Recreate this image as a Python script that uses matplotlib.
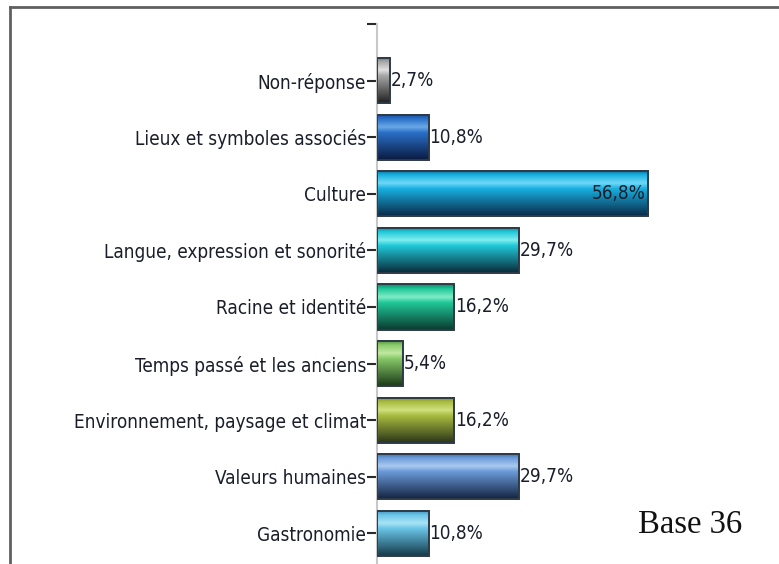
import matplotlib
matplotlib.use("Agg")
import matplotlib.pyplot as plt
import numpy as np
from matplotlib.colors import LinearSegmentedColormap
from matplotlib.lines import Line2D

categories = [
    "Non-réponse",
    "Lieux et symboles associés",
    "Culture",
    "Langue, expression et sonorité",
    "Racine et identité",
    "Temps passé et les anciens",
    "Environnement, paysage et climat",
    "Valeurs humaines",
    "Gastronomie",
]
values = [2.7, 10.8, 56.8, 29.7, 16.2, 5.4, 16.2, 29.7, 10.8]
value_labels = ["2,7%", "10,8%", "56,8%", "29,7%", "16,2%", "5,4%", "16,2%", "29,7%", "10,8%"]
base_note = "Base 36"

# (top edge, base, highlight, bottom) colours of each bar's vertical gradient
bar_shades = [
    ("#707070", "#a8a8a8", "#e0e0e0", "#202020"),
    ("#1a4aa0", "#2a70c8", "#6aa8e8", "#0a1a40"),
    ("#0a6a9a", "#18b0e0", "#70d8f8", "#0a2a48"),
    ("#0a8a9a", "#20c8d8", "#80eef0", "#0a2a38"),
    ("#0a8a6a", "#20c898", "#80ecc8", "#0a3a30"),
    ("#4a8a3a", "#88c868", "#c0eaa0", "#1a3a18"),
    ("#7a8a2a", "#a8bc40", "#d0e080", "#2a3418"),
    ("#3a68a8", "#6a9ad8", "#aacaf0", "#142440"),
    ("#3a90b8", "#6ac4e6", "#a8e4f6", "#143a4a"),
]

fig = plt.figure(figsize=(7.79, 5.64), dpi=100)
W, H = 779, 564

# axes spans from the top tick (y=24px) to one slot below the figure edge
ax_left, ax_top, ax_bottom, ax_right = 377, 24, 590, 759
ax = fig.add_axes([ax_left / W, 1 - ax_bottom / H,
                   (ax_right - ax_left) / W, (ax_bottom - ax_top) / H])

n = len(categories)
ypos = np.arange(n)
bar_h = 0.8
bars = ax.barh(ypos, values, height=bar_h, facecolor="none",
               edgecolor="#2e3a48", linewidth=1.4, zorder=3)

for bar, shades in zip(bars, bar_shades):
    top, base, light, bottom = shades
    cmap = LinearSegmentedColormap.from_list(
        "shade", [(0.0, top), (0.10, base), (0.28, light), (0.40, base), (1.0, bottom)])
    grad = np.linspace(0, 1, 128).reshape(-1, 1)
    x0, y0 = bar.get_x(), bar.get_y()
    w, h = bar.get_width(), bar.get_height()
    ax.imshow(grad, cmap=cmap, aspect="auto", interpolation="bilinear",
              extent=[x0, x0 + w, y0 + h, y0], zorder=2)

ax.set_xlim(0, 80)
ax.set_ylim(n, -1)

label_font = dict(fontsize=13.6, color="#1a1e2a", fontstretch="condensed")
for i, (v, lab) in enumerate(zip(values, value_labels)):
    if v > 40:
        ax.text(v - 0.6, i, lab, ha="right", va="center", zorder=4, **label_font)
    else:
        ax.text(v + 0.2, i, lab, ha="left", va="center", zorder=4, **label_font)

ax.set_yticks(np.arange(-1, n))
ax.set_yticklabels([""] + categories, **label_font)
ax.tick_params(axis="y", length=7, width=1.5, color="#2a2a2a", pad=1)
ax.set_xticks([])
for side in ("top", "right", "bottom"):
    ax.spines[side].set_visible(False)
ax.spines["left"].set_color("#c8c8c8")
ax.spines["left"].set_linewidth(1.5)
ax.set_facecolor("none")

fig.text(690 / W, 1 - 525 / H, base_note, family="Liberation Serif",
         fontsize=23.5, ha="center", va="center", color="#111111")

# outer frame (left and top edges)
fig.add_artist(Line2D([9.5 / W, 9.5 / W], [0, 1 - 7 / H], transform=fig.transFigure,
                      color="#606060", linewidth=2))
fig.add_artist(Line2D([9.5 / W, 1], [1 - 7 / H, 1 - 7 / H], transform=fig.transFigure,
                      color="#606060", linewidth=2))

fig.savefig("out.png", dpi=100)
